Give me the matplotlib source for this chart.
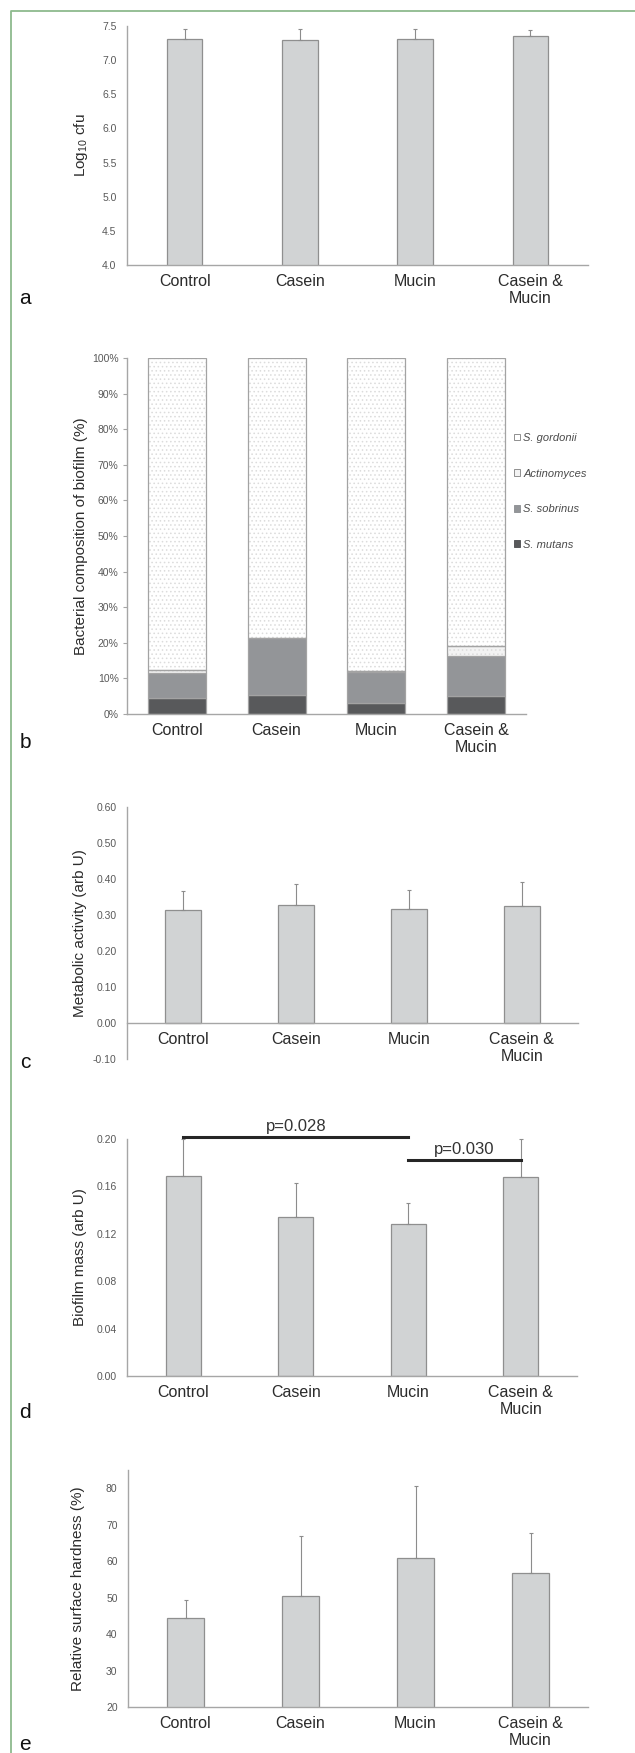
"""Five stacked bar panels: biofilm counts, composition, activity, mass and enamel hardness."""

import matplotlib

matplotlib.use("Agg")
import matplotlib.pyplot as plt
from matplotlib.lines import Line2D
from matplotlib.patches import Patch
from matplotlib.ticker import FuncFormatter

plt.rcParams["font.family"] = ["Liberation Sans", "DejaVu Sans"]
plt.rcParams["mathtext.fontset"] = "custom"
plt.rcParams["mathtext.rm"] = "Liberation Sans"
plt.rcParams["hatch.linewidth"] = 0.6

categories = ["Control", "Casein", "Mucin", "Casein &\nMucin"]

log_cfu = [7.31, 7.30, 7.31, 7.35]
log_cfu_err = [0.14, 0.15, 0.15, 0.09]

species = ["S. gordonii", "Actinomyces", "S. sobrinus", "S. mutans"]
mutans = [4.6, 5.2, 3.0, 5.0]
sobrinus = [7.0, 16.1, 8.9, 11.4]
actinomyces = [0.7, 0.0, 0.3, 2.6]
gordonii = [87.7, 78.7, 87.8, 81.0]

metabolic = [0.315, 0.328, 0.318, 0.325]
metabolic_err = [0.053, 0.058, 0.051, 0.067]

biomass = [0.169, 0.134, 0.128, 0.168]
biomass_err = [0.031, 0.029, 0.018, 0.032]
biomass_pairs = [(0, 2, 0.2015, "p=0.028"), (2, 3, 0.1823, "p=0.030")]

hardness = [44.4, 50.4, 60.8, 56.7]
hardness_err = [4.9, 16.4, 19.7, 10.9]

W, H = 635, 1753
BAR = "#d1d3d4"
BAR_EDGE = "#8f8f8f"
AXIS = "#a6a6a6"
TICK = "#595959"
TEXT = "#2b2b2b"


def rect(left, top, right, bottom):
    return [left / W, 1 - bottom / H, (right - left) / W, (bottom - top) / H]


def style(ax, ylim, ticks, fmt, tick_len=0, pad=7.5):
    ax.set_xlim(-0.5, 3.5)
    ax.set_ylim(*ylim)
    ax.set_yticks(ticks)
    ax.yaxis.set_major_formatter(FuncFormatter(fmt))
    ax.set_xticks(range(len(categories)))
    ax.set_xticklabels(categories, fontsize=11.5, color=TEXT, linespacing=1.2)
    for side in ("top", "right"):
        ax.spines[side].set_visible(False)
    for side in ("left", "bottom"):
        ax.spines[side].set_color(AXIS)
        ax.spines[side].set_linewidth(1.0)
    ax.tick_params(axis="y", length=tick_len, color=AXIS, labelsize=7.5, labelcolor=TICK, pad=pad)
    ax.tick_params(axis="x", length=0, pad=6.5)
    ax.patch.set_alpha(0)


def simple_bars(ax, values, errors, width):
    x = range(len(values))
    ax.bar(x, values, width=width, color=BAR, edgecolor=BAR_EDGE, linewidth=0.9, zorder=2)
    ax.errorbar(x, values, yerr=[[0] * len(values), errors], fmt="none", ecolor="#8c8c8c",
                elinewidth=0.8, capsize=1.5, capthick=0.8, zorder=3, clip_on=False)


def ylabel(text, x, top, bottom):
    fig.text(x / W, 1 - (top + bottom) / 2 / H, text, rotation=90, ha="center", va="center",
             fontsize=11, color=TEXT)


def panel_letter(letter, y):
    fig.text(25 / W, 1 - y / H, letter, ha="center", va="center", fontsize=15, color="#111111")


fig = plt.figure(figsize=(W / 100, H / 100), dpi=100)

# a: log10 cfu
ax = fig.add_axes(rect(127, 26, 588, 265))
simple_bars(ax, log_cfu, log_cfu_err, 0.31)
style(ax, (4.0, 7.5), [4.0, 4.5, 5.0, 5.5, 6.0, 6.5, 7.0, 7.5], lambda v, _: f"{v:.1f}")
ylabel("Log$_{10}$ cfu", 81, 26, 265)
panel_letter("a", 299)

# b: composition, stacked
ax = fig.add_axes(rect(127, 358, 526, 714))
x = range(len(categories))
seg_edge = "#a3a3a3"
bottom = [0.0] * 4
layers = [
    (mutans, "#58595b", None),
    (sobrinus, "#939598", None),
    (actinomyces, "#f3f3f3", "...."),
    (gordonii, "#ffffff", "...."),
]
for values, color, hatch in layers:
    if hatch:
        ax.bar(x, values, bottom=bottom, width=0.58, color=color, edgecolor="#dcdcdc",
               hatch=hatch, linewidth=0, zorder=2)
        ax.bar(x, values, bottom=bottom, width=0.58, fill=False, edgecolor=seg_edge,
               linewidth=0.9, zorder=3)
    else:
        ax.bar(x, values, bottom=bottom, width=0.58, color=color, edgecolor=seg_edge,
               linewidth=0.9, zorder=2)
    bottom = [b + v for b, v in zip(bottom, values)]
style(ax, (0, 100), range(0, 101, 10), lambda v, _: f"{v:.0f}%", tick_len=3, pad=3)
ax.tick_params(axis="y", direction="out")
handles = [
    Patch(facecolor="#ffffff", edgecolor="#8f8f8f", linewidth=0.7),
    Patch(facecolor="#f3f3f3", edgecolor="#8f8f8f", linewidth=0.7),
    Patch(facecolor="#939598", edgecolor="#939598", linewidth=0.7),
    Patch(facecolor="#58595b", edgecolor="#58595b", linewidth=0.7),
]
leg = ax.legend(handles, species, loc="upper left", bbox_to_anchor=(514 / W, 1 - 433 / H),
                bbox_transform=fig.transFigure, frameon=False, fontsize=8,
                handlelength=0.55, handleheight=0.55, handletextpad=0.3, labelspacing=2.3,
                borderpad=0, borderaxespad=0)
for t in leg.get_texts():
    t.set_fontstyle("italic")
    t.set_color("#4a4a4a")
ylabel("Bacterial composition of biofilm (%)", 81, 358, 714)
panel_letter("b", 742)

# c: metabolic activity (x axis crosses at zero)
ax = fig.add_axes(rect(127, 807, 578, 1059))
ax.spines["bottom"].set_position(("data", 0))
simple_bars(ax, metabolic, metabolic_err, 0.32)
style(ax, (-0.1, 0.6), [-0.1, 0.0, 0.1, 0.2, 0.3, 0.4, 0.5, 0.6], lambda v, _: f"{v:.2f}")
ylabel("Metabolic activity (arb U)", 80, 807, 1059)
panel_letter("c", 1063)

# d: biofilm mass
ax = fig.add_axes(rect(127, 1139, 577, 1376))
simple_bars(ax, biomass, biomass_err, 0.31)
style(ax, (0, 0.2), [0.0, 0.04, 0.08, 0.12, 0.16, 0.20], lambda v, _: f"{v:.2f}")
for start, end, level, label in biomass_pairs:
    ax.plot([start, end], [level, level], color="#262626", linewidth=2.2, clip_on=False, zorder=4)
    ax.text((start + end) / 2, level + 0.0025, label, ha="center", va="bottom",
            fontsize=12, color="#333333", clip_on=False)
ylabel("Biofilm mass (arb U)", 80, 1139, 1376)
panel_letter("d", 1412)

# e: relative surface hardness
ax = fig.add_axes(rect(128, 1470, 588, 1707))
simple_bars(ax, hardness, hardness_err, 0.32)
style(ax, (20, 85), [20, 30, 40, 50, 60, 70, 80], lambda v, _: f"{v:.0f}")
ylabel("Relative surface hardness (%)", 78, 1470, 1707)
panel_letter("e", 1745)

# green frame (left and top edges)
fig.add_artist(Line2D([11 / W, 11 / W, 1.0], [0.0, 1 - 11 / H, 1 - 11 / H],
                      transform=fig.transFigure, color="#8dba8d", linewidth=1.3))

fig.savefig("out.png", dpi=100)
